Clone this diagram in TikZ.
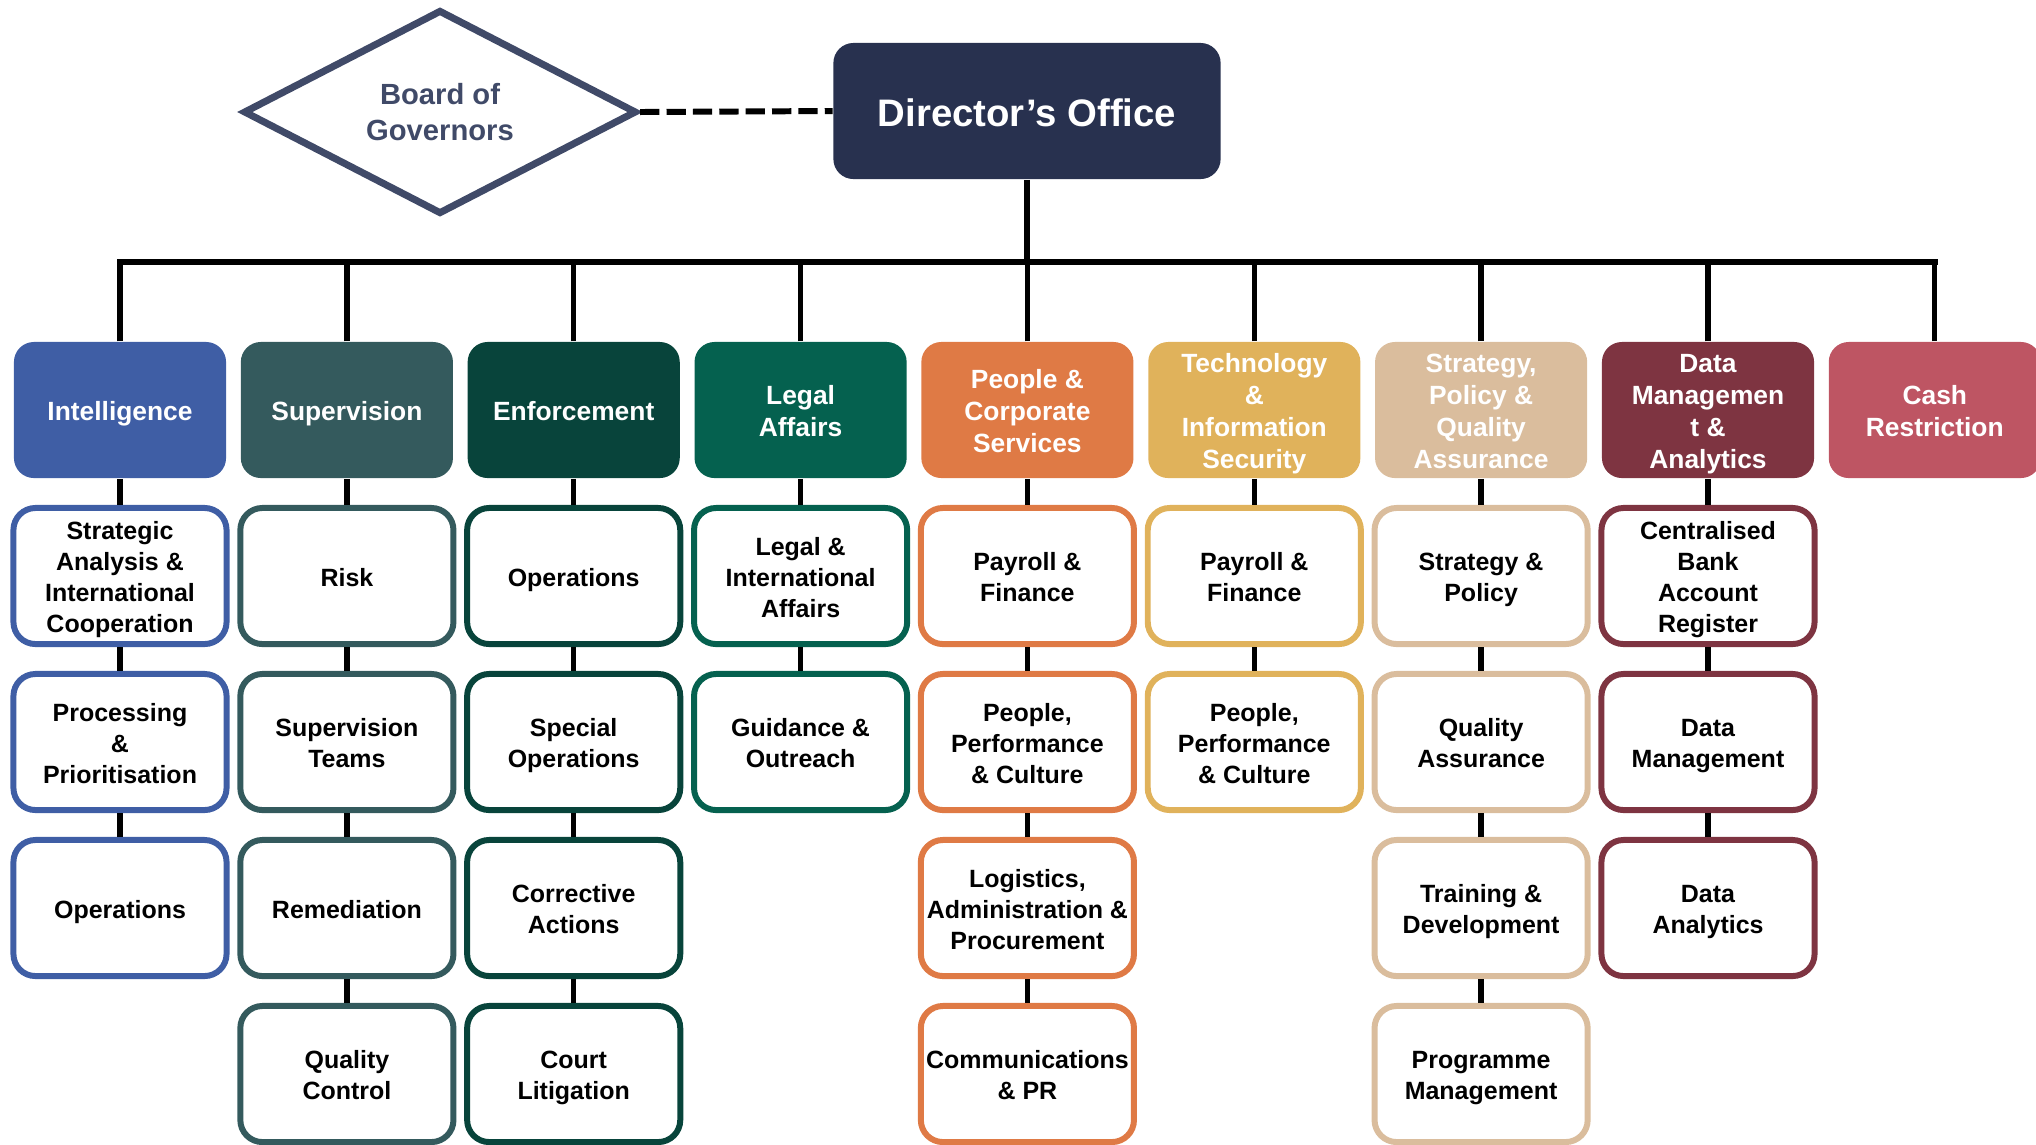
\documentclass[tikz,border=0pt]{standalone}
\usepackage{fontspec}
\setmainfont{Liberation Sans}
\usetikzlibrary{shapes.geometric}

\definecolor{navy}{HTML}{28314F}
\definecolor{slate}{HTML}{404A68}
\definecolor{intelblue}{HTML}{3F5EA5}
\definecolor{supteal}{HTML}{345A5D}
\definecolor{enfgreen}{HTML}{08443B}
\definecolor{legalgreen}{HTML}{05614F}
\definecolor{peopleorange}{HTML}{DF7A45}
\definecolor{techgold}{HTML}{E0B25B}
\definecolor{strattan}{HTML}{DABD9D}
\definecolor{datamaroon}{HTML}{7E3441}
\definecolor{cashrose}{HTML}{BE5563}

\newbox\linebox

\begin{document}
\begin{tikzpicture}[x=0.01cm, y=-0.01cm,
  textfix/.style={execute at begin node={\setbox\linebox=\hbox\bgroup},
    execute at end node={\egroup\vrule width 0pt height \dimexpr\ht\linebox+0.3em\relax depth 0.212em\box\linebox}},
  headbox/.style={textfix, fill=#1, rounded corners=0.2cm, minimum width=2.12cm, minimum height=1.36cm, inner sep=1pt, align=center, text=white, font=\bfseries\fontsize{7.5}{9.1}\selectfont},
  unitbox/.style={textfix, draw=#1, fill=white, line width=1.7pt, rounded corners=0.22cm, minimum width=2.13cm, minimum height=1.36cm, inner sep=1pt, align=center, font=\bfseries\fontsize{7.1}{8.8}\selectfont},
  link/.style={line width=1.5pt}]
\useasboundingbox (0, 0) rectangle (2036, 1144);

\node [diamond, draw=slate, line width=2pt, minimum width=3.93cm, minimum height=2.01cm, inner sep=0pt, text=slate, align=center, font=\bfseries\fontsize{8.3}{10}\selectfont] (board) at (440, 112) {Board of\\Governors};
\node [textfix, fill=navy, rounded corners=0.2cm, minimum width=3.87cm, minimum height=1.36cm, text=white, font=\bfseries\fontsize{10.9}{13}\selectfont] (dir) at (1027, 111) {Director’s Office};
\draw [line width=1.7pt, dash pattern=on 5.5pt off 2pt] (board.east) -- (dir.west);

% departments
\node [headbox=intelblue] (intel) at (120, 410) {Intelligence};
\node [headbox=supteal] (superv) at (346.9, 410) {Supervision};
\node [headbox=enfgreen] (enforce) at (573.7, 410) {Enforcement};
\node [headbox=legalgreen] (legal) at (800.6, 410) {Legal\\Affairs};
\node [headbox=peopleorange] (people) at (1027.4, 410) {People \&\\Corporate\\Services};
\node [headbox=techgold] (tech) at (1254.3, 410) {Technology\\\&\\Information\\Security};
\node [headbox=strattan] (strat) at (1481.1, 410) {Strategy,\\Policy \&\\Quality\\Assurance};
\node [headbox=datamaroon] (data) at (1708, 410) {Data\\Managemen\\t \&\\Analytics};
\node [headbox=cashrose] (cash) at (1934.8, 410) {Cash\\Restriction};

\coordinate (busL) at (120, 262);
\coordinate (busR) at (1934.8, 262);
\draw [line width=1.9pt, line cap=rect] (busL) -- (busR);
\draw [link] (dir.south) -- (dir.south |- busL);
\foreach \d in {intel, superv, enforce, legal, people, tech, strat, data, cash}
  \draw [link] (\d.north) -- (\d.north |- busL);

% teams
\node [unitbox=intelblue] (intel1) at (120, 576) {Strategic\\Analysis \&\\International\\Cooperation};
\node [unitbox=intelblue] (intel2) at (120, 742) {Processing\\\&\\Prioritisation};
\node [unitbox=intelblue] (intel3) at (120, 908) {Operations};

\node [unitbox=supteal] (superv1) at (346.9, 576) {Risk};
\node [unitbox=supteal] (superv2) at (346.9, 742) {Supervision\\Teams};
\node [unitbox=supteal] (superv3) at (346.9, 908) {Remediation};
\node [unitbox=supteal] (superv4) at (346.9, 1074) {Quality\\Control};

\node [unitbox=enfgreen] (enforce1) at (573.7, 576) {Operations};
\node [unitbox=enfgreen] (enforce2) at (573.7, 742) {Special\\Operations};
\node [unitbox=enfgreen] (enforce3) at (573.7, 908) {Corrective\\Actions};
\node [unitbox=enfgreen] (enforce4) at (573.7, 1074) {Court\\Litigation};

\node [unitbox=legalgreen] (legal1) at (800.6, 576) {Legal \&\\International\\Affairs};
\node [unitbox=legalgreen] (legal2) at (800.6, 742) {Guidance \&\\Outreach};

\node [unitbox=peopleorange] (people1) at (1027.4, 576) {Payroll \&\\Finance};
\node [unitbox=peopleorange] (people2) at (1027.4, 742) {People,\\Performance\\\& Culture};
\node [unitbox=peopleorange] (people3) at (1027.4, 908) {Logistics,\\Administration \&\\Procurement};
\node [unitbox=peopleorange] (people4) at (1027.4, 1074) {Communications\\\& PR};

\node [unitbox=techgold] (tech1) at (1254.3, 576) {Payroll \&\\Finance};
\node [unitbox=techgold] (tech2) at (1254.3, 742) {People,\\Performance\\\& Culture};

\node [unitbox=strattan] (strat1) at (1481.1, 576) {Strategy \&\\Policy};
\node [unitbox=strattan] (strat2) at (1481.1, 742) {Quality\\Assurance};
\node [unitbox=strattan] (strat3) at (1481.1, 908) {Training \&\\Development};
\node [unitbox=strattan] (strat4) at (1481.1, 1074) {Programme\\Management};

\node [unitbox=datamaroon] (data1) at (1708, 576) {Centralised\\Bank\\Account\\Register};
\node [unitbox=datamaroon] (data2) at (1708, 742) {Data\\Management};
\node [unitbox=datamaroon] (data3) at (1708, 908) {Data\\Analytics};

\draw [link] (intel) -- (intel1) (intel1) -- (intel2) (intel2) -- (intel3);
\draw [link] (superv) -- (superv1) (superv1) -- (superv2) (superv2) -- (superv3) (superv3) -- (superv4);
\draw [link] (enforce) -- (enforce1) (enforce1) -- (enforce2) (enforce2) -- (enforce3) (enforce3) -- (enforce4);
\draw [link] (legal) -- (legal1) (legal1) -- (legal2);
\draw [link] (people) -- (people1) (people1) -- (people2) (people2) -- (people3) (people3) -- (people4);
\draw [link] (tech) -- (tech1) (tech1) -- (tech2);
\draw [link] (strat) -- (strat1) (strat1) -- (strat2) (strat2) -- (strat3) (strat3) -- (strat4);
\draw [link] (data) -- (data1) (data1) -- (data2) (data2) -- (data3);
\end{tikzpicture}
\end{document}
